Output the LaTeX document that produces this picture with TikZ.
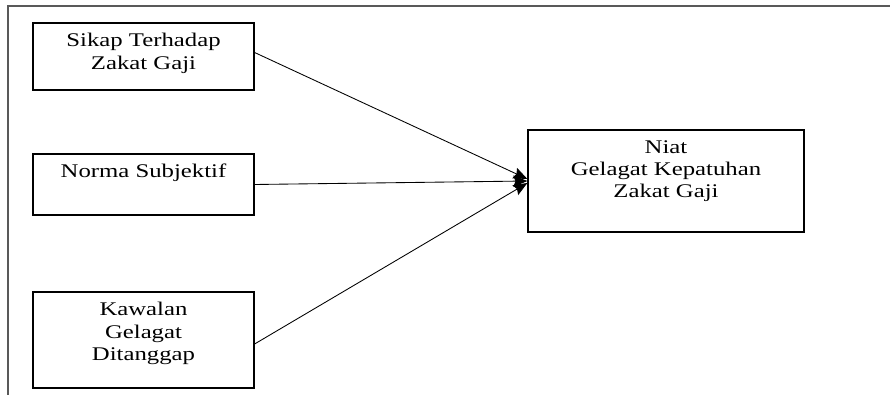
\documentclass[tikz,border=0pt]{standalone}
\usepackage{fontspec}
\setmainfont[FakeStretch=1.28]{Liberation Serif}
\usetikzlibrary{arrows.meta}

\tikzset{
  kotak/.style={draw, line width=0.9pt, minimum width=165.75pt, inner sep=0pt},
  teks/.style={anchor=north, align=center, inner sep=8pt,
    font=\fontsize{14.5pt}{16.8pt}\selectfont},
  panah/.style={->, line width=0.65pt}
}

\begin{document}
\begin{tikzpicture}[x=0.75pt, y=-0.75pt, >={Stealth[length=10.5pt, width=8.5pt, inset=1.5pt]}]
\useasboundingbox (0,0) rectangle (890,395);

% Frame
\draw[line width=1.1pt, gray!70!black] (890,6) -- (8,6) -- (8,395);

% Boxes
\node[kotak, minimum height=50.25pt, label={[teks]north:{Sikap Terhadap\\Zakat Gaji}}] (sikap) at (143.5,56.5) {};
\node[kotak, minimum height=45.75pt, label={[teks]north:{Norma Subjektif}}] (norma) at (143.5,184.5) {};
\node[kotak, minimum height=72pt, label={[teks]north:{Kawalan\\Gelagat\\Ditanggap}}] (kawalan) at (143.5,340) {};
\node[kotak, minimum width=207pt, minimum height=76.5pt, label={[teks]north:{Niat\\Gelagat Kepatuhan\\Zakat Gaji}}] (niat) at (666,181) {};

% Arrows
\draw[panah] ([yshift=3pt]sikap.east) -- ([yshift=1.5pt]niat.west);
\draw[panah] (norma.east) -- (niat.west);
\draw[panah] ([yshift=-3pt]kawalan.east) -- ([yshift=-1.5pt]niat.west);

\end{tikzpicture}
\end{document}
